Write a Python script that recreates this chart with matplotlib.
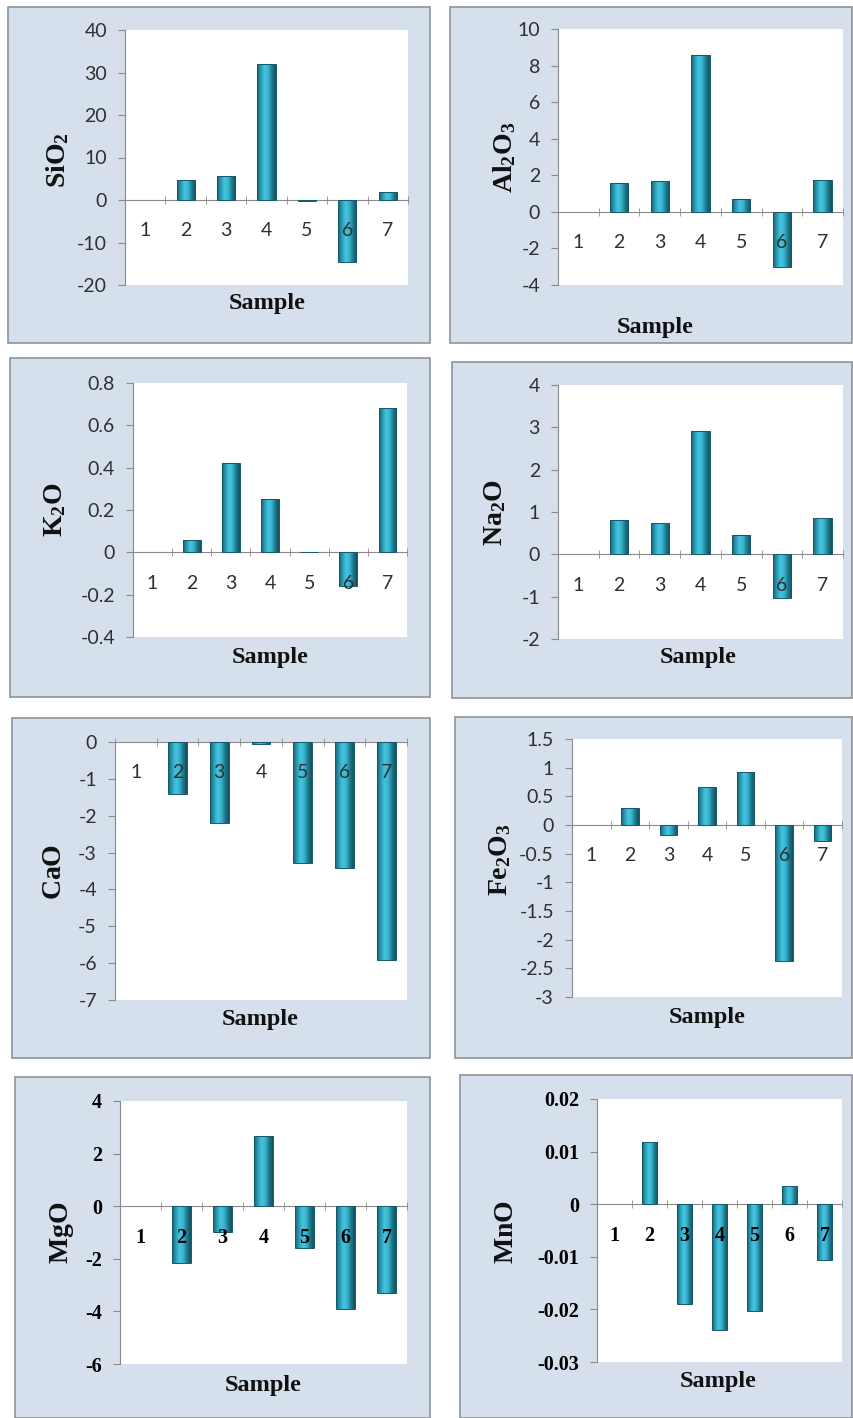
import numpy as np
import matplotlib
matplotlib.use('Agg')
import matplotlib.pyplot as plt
from matplotlib.patches import Rectangle
from matplotlib.colors import LinearSegmentedColormap
from matplotlib.ticker import FixedLocator, FuncFormatter
from matplotlib.font_manager import FontProperties

plt.rcParams['mathtext.fontset'] = 'custom'
plt.rcParams['mathtext.rm'] = 'Liberation Serif'
plt.rcParams['mathtext.bf'] = 'Liberation Serif:bold'

# Data
samples = [1, 2, 3, 4, 5, 6, 7]
sio2 = [0, 4.7, 5.7, 32.0, -0.3, -14.7, 2.0]
al2o3 = [0, 1.6, 1.7, 8.6, 0.7, -3.0, 1.75]
k2o = [0, 0.057, 0.42, 0.25, 0.003, -0.16, 0.68]
na2o = [0, 0.80, 0.74, 2.92, 0.46, -1.03, 0.86]
cao = [0, -1.40, -2.19, -0.05, -3.28, -3.42, -5.92]
fe2o3 = [0, 0.30, -0.18, 0.67, 0.92, -2.37, -0.28]
mgo = [0, -2.15, -0.97, 2.66, -1.60, -3.92, -3.29]
mno = [0, 0.0119, -0.0189, -0.0240, -0.0203, 0.0035, -0.0107]

W, H = 854, 1418

# values, ylabel, (ymin, ymax, step), bold ticks,
# panel box (x0, y0, x1, y1) px, plot box px, ylabel px, xlabel px
panels = [
    (sio2, r'$\mathbf{SiO_2}$', (-20, 40, 10), False,
     (8, 7, 430, 343), (125, 30, 408, 285), (58, 160), (267, 304)),
    (al2o3, r'$\mathbf{Al_2O_3}$', (-4, 10, 2), False,
     (450, 7, 852, 343), (558, 29, 843, 285), (505, 157), (655, 328)),
    (k2o, r'$\mathbf{K_2O}$', (-0.4, 0.8, 0.2), False,
     (10, 358, 430, 697), (133, 383, 407, 637), (55, 510), (270, 658)),
    (na2o, r'$\mathbf{Na_2O}$', (-2, 4, 1), False,
     (452, 362, 852, 698), (558, 385, 843, 639), (495, 513), (698, 658)),
    (cao, r'$\mathbf{CaO}$', (-7, 0, 1), False,
     (12, 718, 430, 1058), (115, 742, 407, 1000), (55, 872), (260, 1020)),
    (fe2o3, r'$\mathbf{Fe_2O_3}$', (-3, 1.5, 0.5), False,
     (455, 717, 852, 1058), (572, 739, 842, 997), (500, 860), (707, 1018)),
    (mgo, r'$\mathbf{MgO}$', (-6, 4, 2), True,
     (15, 1077, 430, 1418), (120, 1101, 407, 1364), (62, 1233), (263, 1385)),
    (mno, r'$\mathbf{MnO}$', (-0.03, 0.02, 0.01), True,
     (460, 1075, 852, 1418), (597, 1099, 842, 1362), (507, 1232), (718, 1382)),
]

bar_cmap = LinearSegmentedColormap.from_list(
    'cyl', ['#17606f', '#2a9bb4', '#46c5df', '#38b3ce', '#1e788b', '#135261'])
grad = np.linspace(0, 1, 64).reshape(1, -1)

fig = plt.figure(figsize=(W / 100, H / 100), dpi=100)
fig.patch.set_facecolor('white')


def fx(x):
    return x / W


def fy(y):
    return 1 - y / H


for vals, ylab, (ymin, ymax, step), bold, box, area, ylpos, xlpos in panels:
    bx0, by0, bx1, by1 = box
    fig.add_artist(Rectangle((fx(bx0), fy(by1)), fx(bx1 - bx0), (by1 - by0) / H,
                             transform=fig.transFigure, facecolor='#d5e0ec',
                             edgecolor='#8d939a', linewidth=1.2, zorder=0))

    ax0, ay0, ax1, ay1 = area
    ax = fig.add_axes([fx(ax0), fy(ay1), fx(ax1 - ax0), (ay1 - ay0) / H])
    ax.set_facecolor('white')

    bars = ax.bar(samples, vals, width=0.45, facecolor='#2aa3bd',
                  edgecolor='#15586a', linewidth=0.7, zorder=2)
    for b in bars:
        x0, w = b.get_x(), b.get_width()
        y0, h = b.get_y(), b.get_height()
        if h == 0:
            b.set_visible(False)
            continue
        im = ax.imshow(grad, extent=[x0, x0 + w, y0, y0 + h], aspect='auto',
                       cmap=bar_cmap, zorder=1.9, interpolation='bilinear')
        im.set_clip_path(b)
        b.set_facecolor('none')

    ax.set_xlim(0.5, 7.5)
    ax.set_ylim(ymin, ymax)

    for s in ['top', 'right']:
        ax.spines[s].set_visible(False)
    ax.spines['left'].set_color('#8a8a8a')
    ax.spines['bottom'].set_color('#8a8a8a')
    ax.spines['bottom'].set_position(('data', 0))
    ax.spines['bottom'].set_zorder(1.5)
    # category labels sit on top of the bars, like the original
    ax.xaxis.set_zorder(3)

    yt = np.round(np.arange(ymin, ymax + step / 2, step), 6)
    ax.yaxis.set_major_locator(FixedLocator(yt))
    ax.yaxis.set_major_formatter(FuncFormatter(lambda v, p: f'{round(v, 6):g}'))

    ax.xaxis.set_major_locator(FixedLocator(samples))
    ax.xaxis.set_minor_locator(FixedLocator(np.arange(0.5, 8.0, 1.0)))
    ax.set_xticklabels([str(s) for s in samples])

    if bold:
        tfont = dict(family='Liberation Serif', weight='bold', size=14.5)
        tcolor = 'black'
    else:
        tfont = dict(family='Lato', size=14)
        tcolor = '#303030'
    for lab in ax.get_yticklabels() + ax.get_xticklabels():
        lab.set_fontproperties(FontProperties(**tfont))
        lab.set_color(tcolor)

    ax.tick_params(axis='y', direction='out', length=5, color='#8a8a8a', pad=8)
    ax.tick_params(axis='x', which='major', length=0, pad=16)
    ax.tick_params(axis='x', which='minor', direction='inout', length=6,
                   color='#8a8a8a')

    fig.text(fx(ylpos[0]), fy(ylpos[1]), ylab, rotation=90, ha='center',
             va='center', fontsize=20, family='Liberation Serif',
             weight='bold', color='#111111')
    fig.text(fx(xlpos[0]), fy(xlpos[1]), 'Sample', ha='center', va='center',
             fontsize=17.5, family='Liberation Serif', weight='bold',
             color='#111111')

plt.savefig('out.png', dpi=100)
